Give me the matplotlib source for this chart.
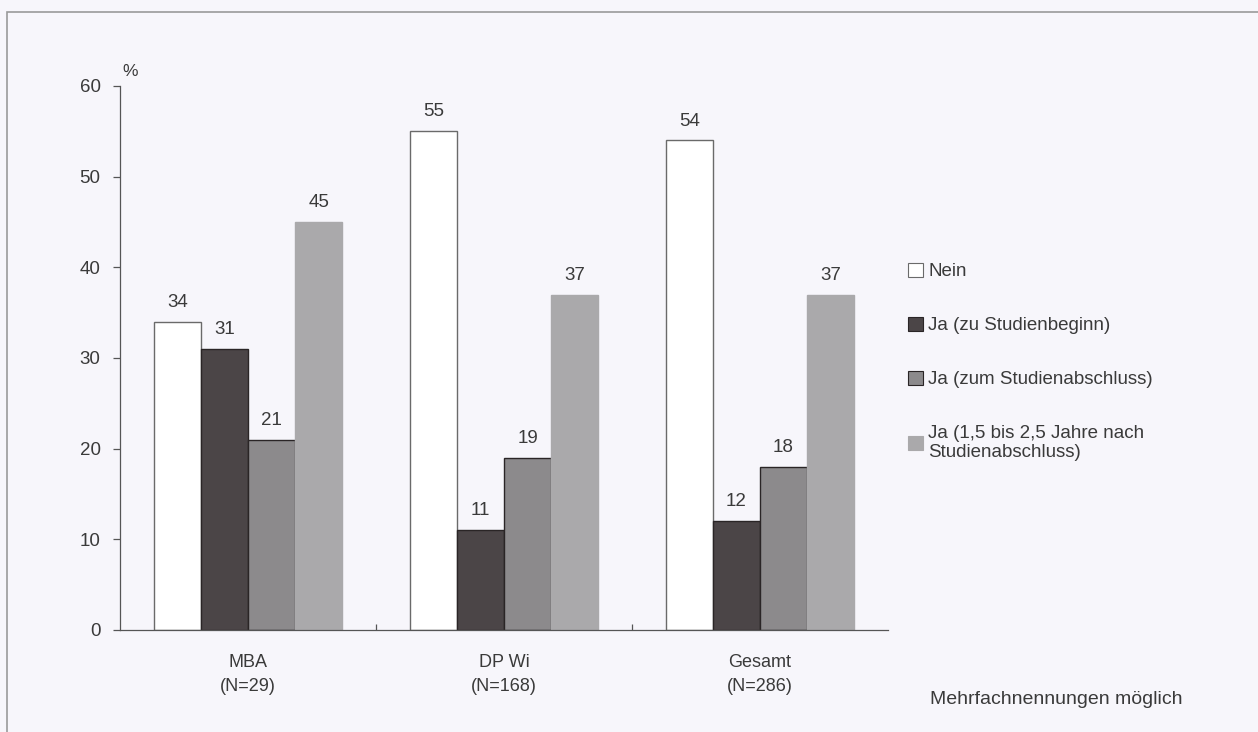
import numpy as np
import matplotlib.pyplot as plt
from matplotlib.patches import Rectangle

plt.rcParams['font.family'] = ['Liberation Sans', 'DejaVu Sans']

# --- chart data ---
groups = ['MBA\n(N=29)', 'DP Wi\n(N=168)', 'Gesamt\n(N=286)']
series = ['Nein', 'Ja (zu Studienbeginn)', 'Ja (zum Studienabschluss)',
          'Ja (1,5 bis 2,5 Jahre nach\nStudienabschluss)']
nein = [34, 55, 54]
ja_beginn = [31, 11, 12]
ja_abschluss = [21, 19, 18]
ja_spaeter = [45, 37, 37]
yticks = [0, 10, 20, 30, 40, 50, 60]

bg = '#f7f6fb'
txt = '#3a3a3a'
fills = ['#ffffff', '#4b4547', '#8c8a8c', '#aaa9ab']
edges = ['#6a6a6a', '#2a2526', '#2a2526', '#aaa9ab']
values = [nein, ja_beginn, ja_abschluss, ja_spaeter]

fig = plt.figure(figsize=(12.58, 7.32), dpi=100, facecolor=bg)
ax = fig.add_axes([120 / 1258, 1 - 630 / 732, 768 / 1258, 544 / 732])
ax.set_facecolor(bg)

# outer frame of the original chart area
fig.patches.append(Rectangle((7 / 1258, -0.05), 1.2, 1 - 12 / 732 + 0.05,
                             transform=fig.transFigure, fill=False,
                             edgecolor='#9a9a9a', linewidth=1.2))

x = np.arange(len(groups))
w = 0.184
handles = []
for i, vals in enumerate(values):
    pos = x + (i - 1.5) * w
    bars = ax.bar(pos, vals, width=w, color=fills[i], edgecolor=edges[i],
                  linewidth=1.0, label=series[i])
    handles.append(bars)
    for p, v in zip(pos, vals):
        ax.text(p, v + 1.2, str(v), ha='center', va='bottom',
                fontsize=13.5, color=txt)

ax.set_xlim(-0.5, 2.5)
ax.set_ylim(0, 60)
ax.set_yticks(yticks)
ax.set_yticklabels([str(t) for t in yticks], fontsize=13.5, color=txt)
ax.set_xticks([0.5, 1.5])
ax.set_xticklabels([])
ax.tick_params(axis='y', length=5, width=0.9, color='#555555', pad=9)
ax.tick_params(axis='x', length=4, width=0.9, color='#555555', direction='in')
for lbl_x, lbl in zip(x, groups):
    ax.text(lbl_x, -2.6, lbl, ha='center', va='top', fontsize=13,
            color=txt, linespacing=1.6)

for s in ['top', 'right']:
    ax.spines[s].set_visible(False)
for s in ['left', 'bottom']:
    ax.spines[s].set_color('#555555')
    ax.spines[s].set_linewidth(0.9)

ax.text(0.003, 60.8, '%', ha='left', va='bottom', fontsize=12.5, color=txt,
        transform=ax.get_yaxis_transform())

leg = fig.legend(handles=handles, labels=series, loc='upper left',
                 bbox_to_anchor=(891 / 1258, 1 - 246 / 732), frameon=False,
                 fontsize=13.5, handlelength=0.8, handleheight=0.75,
                 handletextpad=0.3, labelspacing=1.95, labelcolor=txt)
for patch in leg.get_patches():
    patch.set_linewidth(0.8)

fig.text(930 / 1258, 1 - 700 / 732, 'Mehrfachnennungen möglich',
         ha='left', va='center', fontsize=14, color=txt)

fig.savefig('out.png', dpi=100, facecolor=bg)
